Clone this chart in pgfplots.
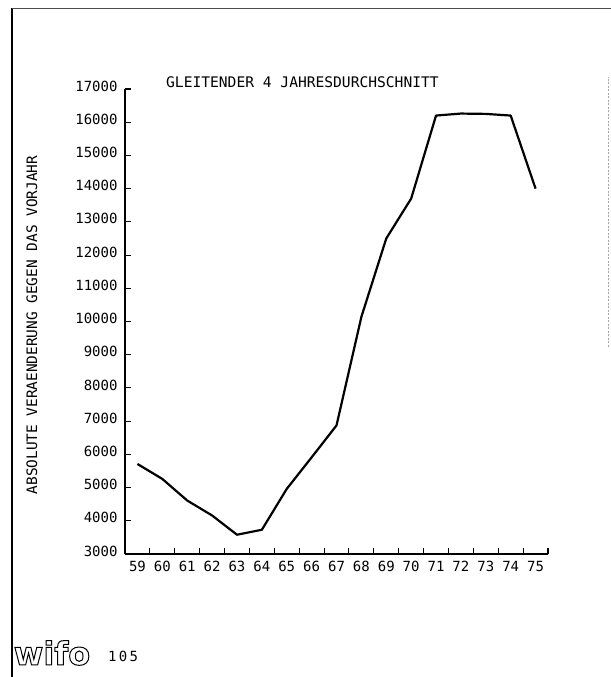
\documentclass[border=0pt]{standalone}
\usepackage{fontspec}
\usepackage{pgfplots}
\pgfplotsset{compat=1.18}
\setmainfont{DejaVu Sans Mono}
\newfontfamily\logofont{DejaVu Sans}[BoldFont={* Bold}]
\newcommand{\plotfont}{\fontsize{14bp}{16bp}\selectfont}

\pgfplotstableread{
year value
59 5710
60 5260
61 4610
62 4160
63 3580
64 3730
65 4960
66 5910
67 6870
68 10140
69 12500
70 13700
71 16200
72 16260
73 16250
74 16200
75 14000
}\movavg

\begin{document}
\begin{tikzpicture}[x=1bp,y=1bp]
\useasboundingbox (0,0) rectangle (611,677);
% page frame of the scan
\draw[line width=1.4bp] (12,0) -- (12,669);
\draw[line width=0.8bp,black!70] (12,669) -- (611,669);
\draw[line width=0.6bp,black!35,dash pattern=on 2bp off 1.5bp] (608,330) -- (608,600);

\begin{axis}[
    scale only axis,
    width=423bp, height=465bp,
    at={(125bp,123bp)}, anchor=south west,
    xmin=58.5, xmax=75.5,
    ymin=3000, ymax=17000,
    axis x line*=bottom, axis y line*=left,
    xtick pos=bottom, ytick pos=left,
    axis line style={-, line width=1.3bp},
    scaled y ticks=false,
    tick align=inside,
    xtick={59.5,60.5,...,75.5},
    xticklabels={},
    extra x ticks={59,...,75},
    extra x tick style={major tick length=0pt},
    ytick={3000,4000,...,17000},
    major tick length=5.5bp,
    every major tick/.append style={draw=black, line width=1.1bp},
    ticklabel style={font=\plotfont},
    /pgf/number format/assume math mode=true,
    /pgf/number format/1000 sep={},
    yticklabel style={xshift=-4bp, yshift=3bp},
    xticklabel style={yshift=-4bp},
    clip=false,
]
\addplot[black, line width=2.2bp, line join=round] table[x=year, y=value] {\movavg};
\end{axis}

\node[anchor=west, inner sep=0pt, font=\fontsize{14.6bp}{16bp}\selectfont] at (166,595) {GLEITENDER 4 JAHRESDURCHSCHNITT};
\node[rotate=90, inner sep=0pt, font=\fontsize{14.4bp}{16bp}\selectfont] at (32,352) {ABSOLUTE VERAENDERUNG GEGEN DAS VORJAHR};
\node[inner sep=0pt] at (52,24) {\logofont\bfseries\fontsize{32bp}{34bp}\selectfont
  \special{pdf:literal direct 1 Tr 1 w}wifo\special{pdf:literal direct 0 Tr}};
\node[anchor=west, inner sep=0pt, font=\plotfont] at (108,21) {1\,0\,5};
\end{tikzpicture}
\end{document}
